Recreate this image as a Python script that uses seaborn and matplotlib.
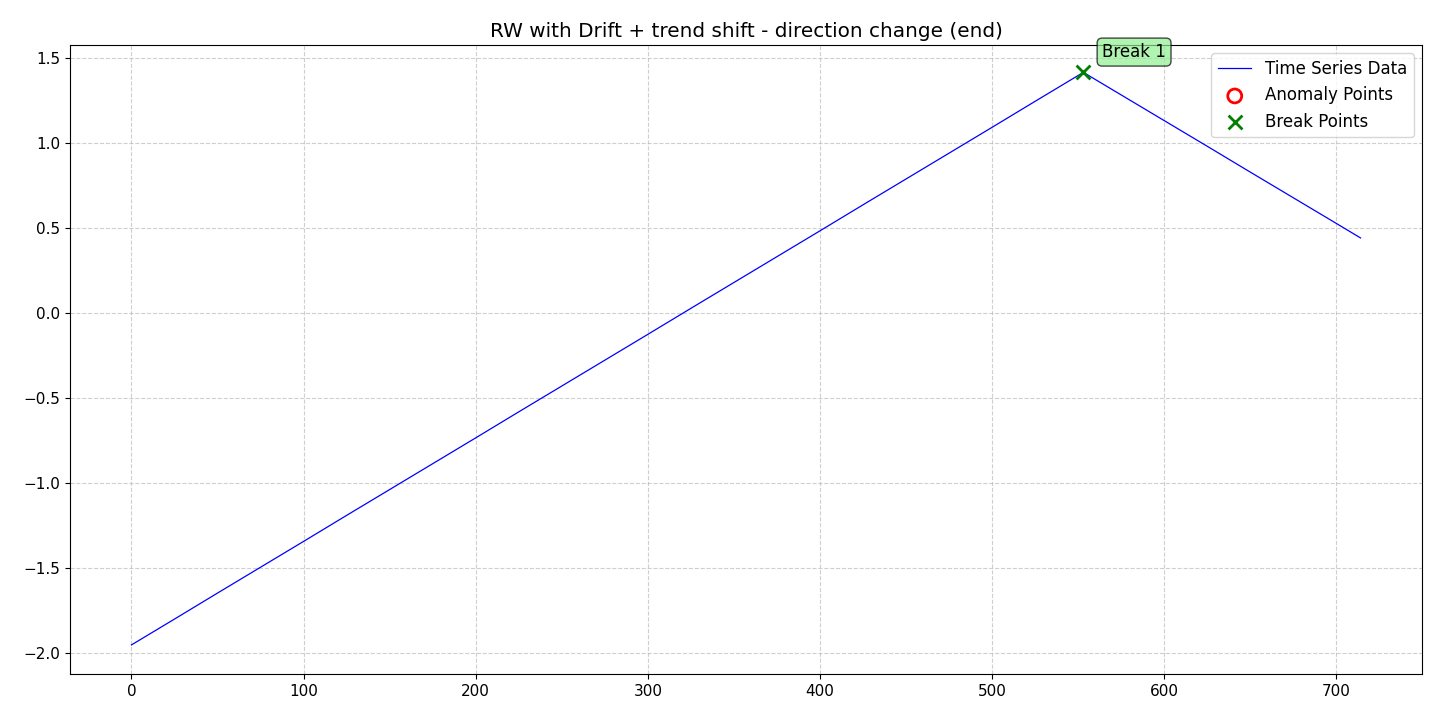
import numpy as np
import pandas as pd
import matplotlib
matplotlib.use("Agg")
import matplotlib.pyplot as plt
import seaborn as sns

steps = [0, 25, 50, 75, 100, 125, 150, 175, 200, 225, 250, 275, 300, 325, 350,
         375, 400, 425, 450, 475, 500, 525, 550, 553, 575, 600, 625, 650, 675,
         700, 714]
values = [-1.953, -1.801, -1.648, -1.496, -1.344, -1.191, -1.039, -0.887,
          -0.735, -0.582, -0.430, -0.278, -0.126, 0.027, 0.179, 0.331, 0.483,
          0.636, 0.788, 0.940, 1.092, 1.245, 1.397, 1.415, 1.282, 1.131, 0.980,
          0.828, 0.677, 0.526, 0.441]

# no anomalies flagged in this series
anomaly_x = []
anomaly_y = []

break_x = [553]
break_y = [1.415]
break_labels = ["Break 1"]

title = "RW with Drift + trend shift - direction change (end)"

df = pd.DataFrame({"t": steps, "value": values})

fig, ax = plt.subplots(figsize=(14.4, 7.2), dpi=100)

sns.lineplot(data=df, x="t", y="value", ax=ax, color="blue", linewidth=0.9,
             label="Time Series Data")
# plain matplotlib scatter so the empty anomaly set still gets a legend entry
ax.scatter(anomaly_x, anomaly_y, s=100, facecolors="none", edgecolors="red",
           linewidths=2, label="Anomaly Points")
sns.scatterplot(x=break_x, y=break_y, ax=ax, marker="x", s=100, color="green",
                linewidth=2, label="Break Points", zorder=5)

for bx, by, lab in zip(break_x, break_y, break_labels):
    ax.annotate(lab, (bx, by), xytext=(13.5, 11), textcoords="offset points",
                fontsize=12,
                bbox=dict(boxstyle="round,pad=0.3", fc="lightgreen", ec="black",
                          alpha=0.7))

ax.set_title(title, fontsize=14.4)
ax.set_xlabel("")
ax.set_ylabel("")
ax.tick_params(labelsize=11)
ax.grid(True, linestyle="--", alpha=0.6)
ax.set_xlim(-35.7, 749.7)
ax.set_ylim(-2.124, 1.576)
ax.legend(loc="upper right", fontsize=12)

fig.subplots_adjust(left=0.0486, right=0.9875, top=0.9375, bottom=0.0639)
plt.savefig("out.png", dpi=100)
plt.close()
